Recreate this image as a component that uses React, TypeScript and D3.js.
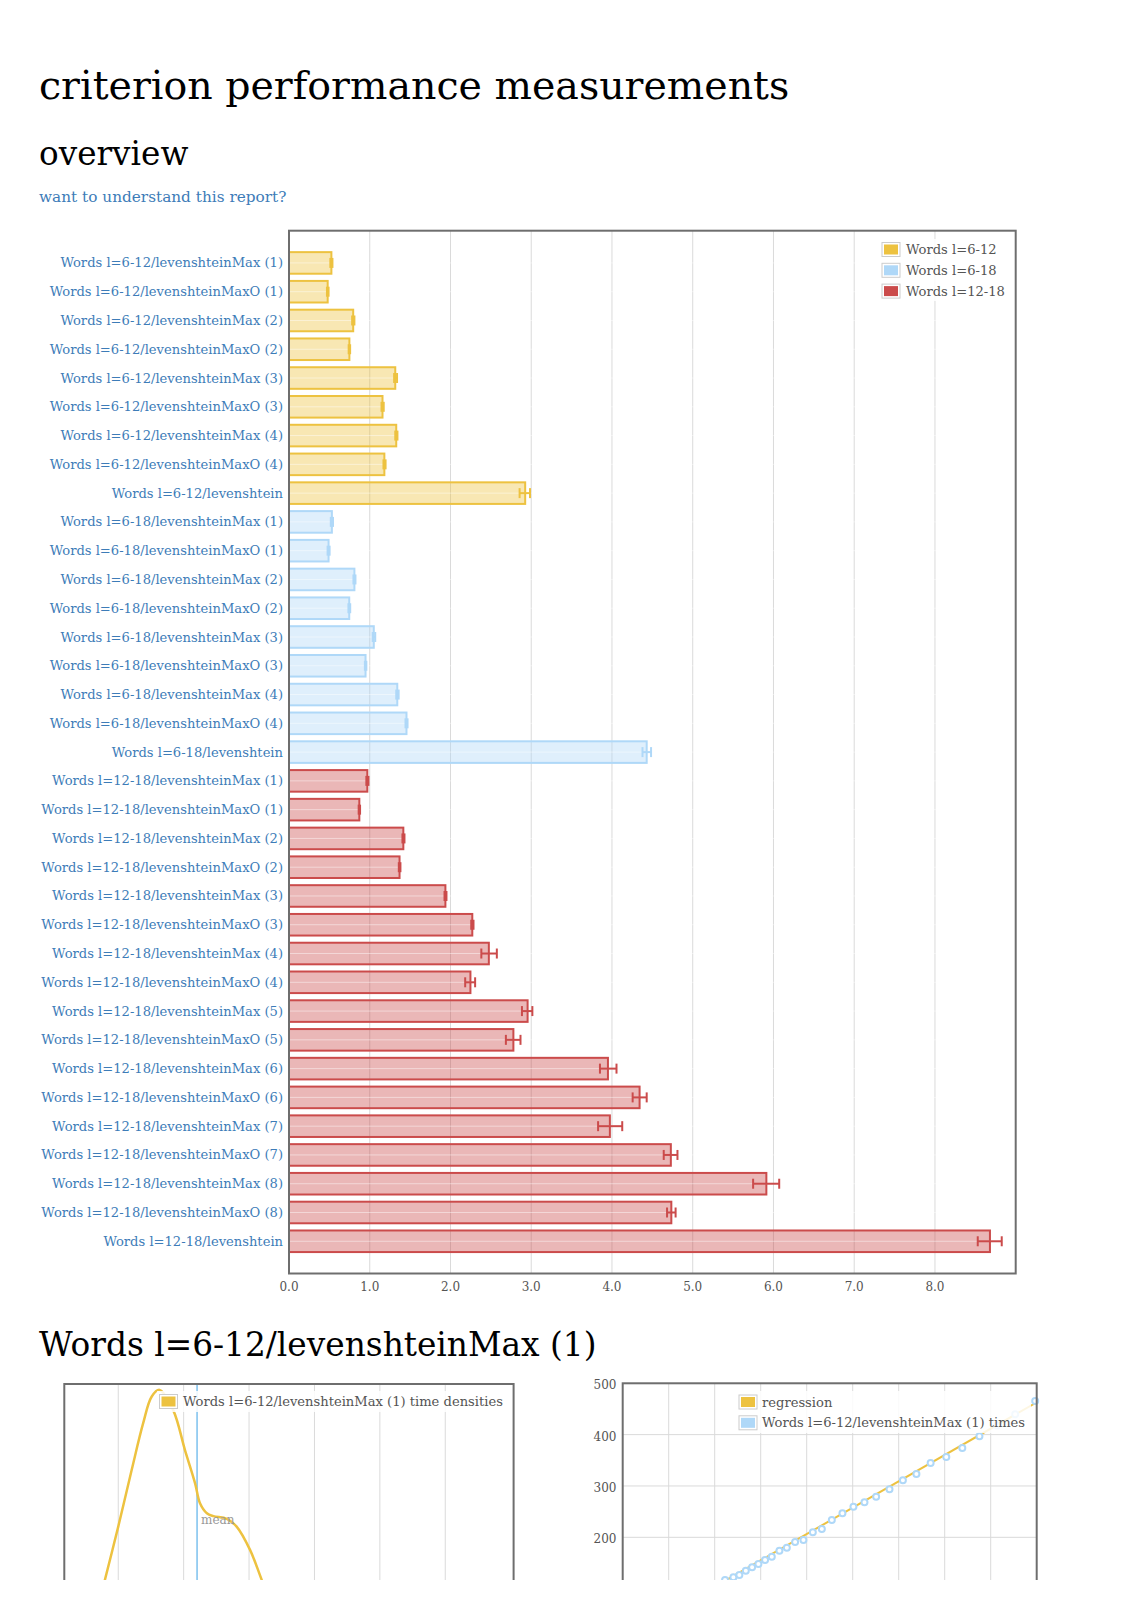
import React from "react";
import * as d3 from "d3";

// ---------- DATA ----------
const seriesNames = ["Words l=6-12", "Words l=6-18", "Words l=12-18"];

const benchNames = [
  "Words l=6-12/levenshteinMax (1)",
  "Words l=6-12/levenshteinMaxO (1)",
  "Words l=6-12/levenshteinMax (2)",
  "Words l=6-12/levenshteinMaxO (2)",
  "Words l=6-12/levenshteinMax (3)",
  "Words l=6-12/levenshteinMaxO (3)",
  "Words l=6-12/levenshteinMax (4)",
  "Words l=6-12/levenshteinMaxO (4)",
  "Words l=6-12/levenshtein",
  "Words l=6-18/levenshteinMax (1)",
  "Words l=6-18/levenshteinMaxO (1)",
  "Words l=6-18/levenshteinMax (2)",
  "Words l=6-18/levenshteinMaxO (2)",
  "Words l=6-18/levenshteinMax (3)",
  "Words l=6-18/levenshteinMaxO (3)",
  "Words l=6-18/levenshteinMax (4)",
  "Words l=6-18/levenshteinMaxO (4)",
  "Words l=6-18/levenshtein",
  "Words l=12-18/levenshteinMax (1)",
  "Words l=12-18/levenshteinMaxO (1)",
  "Words l=12-18/levenshteinMax (2)",
  "Words l=12-18/levenshteinMaxO (2)",
  "Words l=12-18/levenshteinMax (3)",
  "Words l=12-18/levenshteinMaxO (3)",
  "Words l=12-18/levenshteinMax (4)",
  "Words l=12-18/levenshteinMaxO (4)",
  "Words l=12-18/levenshteinMax (5)",
  "Words l=12-18/levenshteinMaxO (5)",
  "Words l=12-18/levenshteinMax (6)",
  "Words l=12-18/levenshteinMaxO (6)",
  "Words l=12-18/levenshteinMax (7)",
  "Words l=12-18/levenshteinMaxO (7)",
  "Words l=12-18/levenshteinMax (8)",
  "Words l=12-18/levenshteinMaxO (8)",
  "Words l=12-18/levenshtein",
];

const benchMeans = [
  0.525, 0.479, 0.795, 0.748, 1.316, 1.158, 1.328, 1.181, 2.925,
  0.531, 0.49, 0.81, 0.746, 1.05, 0.948, 1.341, 1.455, 4.43,
  0.97, 0.871, 1.416, 1.369, 1.937, 2.27, 2.475, 2.247, 2.955, 2.779,
  3.95, 4.342, 3.974, 4.729, 5.912, 4.735, 8.681,
];

const benchLow = [
  0.512, 0.47, 0.782, 0.739, 1.302, 1.146, 1.316, 1.17, 2.856,
  0.518, 0.478, 0.798, 0.736, 1.037, 0.94, 1.328, 1.443, 4.378,
  0.958, 0.863, 1.405, 1.36, 1.926, 2.257, 2.382, 2.182, 2.885, 2.686,
  3.851, 4.256, 3.828, 4.641, 5.748, 4.682, 8.53,
];

const benchHigh = [
  0.538, 0.49, 0.81, 0.757, 1.338, 1.173, 1.343, 1.196, 2.985,
  0.545, 0.503, 0.823, 0.758, 1.068, 0.958, 1.358, 1.468, 4.484,
  0.984, 0.88, 1.43, 1.38, 1.95, 2.285, 2.574, 2.305, 3.014, 2.867,
  4.056, 4.43, 4.127, 4.811, 6.071, 4.788, 8.827,
];

const xTicks = [0, 1, 2, 3, 4, 5, 6, 7, 8];

// detail section
const detailTitle = "Words l=6-12/levenshteinMax (1)";
const densityLabel = "Words l=6-12/levenshteinMax (1) time densities";
const densityX = [491.3, 495.9, 500, 504.1, 507.6, 510.2, 512.6, 516.8, 520.4, 523.5, 525.0, 527.1, 529.1, 533.2, 536.2, 540.3, 543.9, 551];
const densityY = [0.0, 0.234, 0.443, 0.664, 0.846, 0.95, 0.977, 0.898, 0.742, 0.612, 0.534, 0.495, 0.484, 0.473, 0.443, 0.352, 0.234, 0.0];
const densityTicks = [500, 520, 540, 560, 580, 600];
const densityMean = 524.1;

const regLegend = ["regression", "Words l=6-12/levenshteinMax (1) times"];
const iters = [
  222.5, 240.6, 253.6, 267.6, 281.3, 295.0, 309.5, 324.1, 340.7, 356.8,
  374.8, 392.9, 413.3, 432.9, 454.6, 477.7, 501.6, 525.6, 551.0, 580.0,
  609.1, 638.5, 669.4, 703.5, 738.3, 775.5, 814, 853.2, 896.7,
];
const times = [
  116.8, 122.0, 126.5, 134.9, 141.5, 148.0, 155.8, 162.2, 173.9, 179.7,
  190.8, 194.7, 209.7, 216.2, 233.7, 246.7, 259.6, 268.2, 279.1, 293.5,
  311.0, 323.4, 345.0, 356.6, 374.2, 397.1, 418.0, 439.5, 465.4,
];
const regressionX = [0, 900];
const regressionY = [1.1, 463];
const regXTicks = [100, 200, 300, 400, 500, 600, 700, 800];
const regYTicks = [100, 200, 300, 400, 500];

// ---------- STYLE ----------
const colors = ["#edc240", "#afd8f8", "#cb4b4b"];
const FONT = "'DejaVu Serif', serif";
const LINK = "#3d7cb8";
const TICK = "#545454";
const GRID = "#dadada";
const FRAME = "#6e6e6e";
const SMALL = 13.1;

function seriesIndex(name: string) {
  if (name.startsWith("Words l=6-12/")) return 0;
  if (name.startsWith("Words l=6-18/")) return 1;
  return 2;
}

export default function App() {
  // main chart
  const mL = 289, mR = 1015.7, mT = 230.7, mB = 1273.5;
  const x = d3.scaleLinear().domain([0, 9]).range([mL, mR]);
  const y = d3
    .scaleBand<string>()
    .domain(benchNames)
    .range([mT, mB])
    .paddingInner(0.25)
    .paddingOuter(0.745);
  const bw = y.bandwidth();

  // density chart
  const dL = 64.3, dR = 513.6, dT = 1384, dB = 1640;
  const dx = d3.scaleLinear().domain([483.5, 620.9]).range([dL, dR]);
  const dy = d3.scaleLinear().domain([0, 1]).range([dB, dT]);
  const densityPts = densityX.map((v, i) => [v, densityY[i]] as [number, number]);
  const densityPath = d3
    .line<[number, number]>()
    .x((d) => dx(d[0]))
    .y((d) => dy(d[1]))
    .curve(d3.curveCatmullRom.alpha(0.5))(densityPts);

  // regression chart
  const rL = 622.7, rR = 1036.7, rT = 1383.3, rB = 1640;
  const rx = d3.scaleLinear().domain([0, 900]).range([rL, rR]);
  const ry = d3.scaleLinear().domain([0, 500]).range([rB, rT]);
  const regPts = regressionX.map((v, i) => [v, regressionY[i]] as [number, number]);
  const regPath = d3
    .line<[number, number]>()
    .x((d) => rx(d[0]))
    .y((d) => ry(d[1]))(regPts);

  const capH = 10;

  return (
    <svg
      width={1131}
      height={1600}
      style={{ position: "absolute", left: 0, top: 0, background: "#fff" }}
      fontFamily={FONT}
    >
      <defs>
        <clipPath id="pageClip">
          <rect x={0} y={0} width={1131} height={1580} />
        </clipPath>
        <clipPath id="dClip">
          <rect x={dL} y={dT} width={dR - dL} height={dB - dT} />
        </clipPath>
        <clipPath id="rClip">
          <rect x={rL} y={rT} width={rR - rL} height={rB - rT} />
        </clipPath>
      </defs>

      {/* headings */}
      <text x={39} y={99} fontSize={39.5} fill="#000">
        criterion performance measurements
      </text>
      <text x={39} y={165} fontSize={32.7} fill="#000">
        overview
      </text>
      <text x={39} y={202} fontSize={15.3} fill={LINK}>
        want to understand this report?
      </text>

      {/* main chart grid */}
      {xTicks.slice(1).map((t) => (
        <line key={"g" + t} x1={x(t)} x2={x(t)} y1={mT} y2={mB} stroke={GRID} strokeWidth={1} />
      ))}

      {/* bars */}
      {benchNames.map((n, i) => {
        const c = colors[seriesIndex(n)];
        const y0 = y(n)!;
        return (
          <rect
            key={"b" + i}
            x={x(0)}
            y={y0}
            width={x(benchMeans[i]) - x(0)}
            height={bw}
            fill={c}
            fillOpacity={0.4}
            stroke={c}
            strokeWidth={2}
          />
        );
      })}

      {/* faint horizontal category lines */}
      {benchNames.map((n, i) => {
        const cy = y(n)! + bw / 2;
        return (
          <line key={"h" + i} x1={mL} x2={mR} y1={cy} y2={cy} stroke="#fff" strokeOpacity={0.45} strokeWidth={1} />
        );
      })}

      {/* error bars */}
      {benchNames.map((n, i) => {
        const c = colors[seriesIndex(n)];
        const cy = y(n)! + bw / 2;
        const lo = x(benchLow[i]);
        const hi = x(benchHigh[i]);
        return (
          <g key={"e" + i} stroke={c} strokeWidth={2}>
            <line x1={lo} x2={hi} y1={cy} y2={cy} />
            <line x1={lo} x2={lo} y1={cy - capH / 2} y2={cy + capH / 2} />
            <line x1={hi} x2={hi} y1={cy - capH / 2} y2={cy + capH / 2} />
          </g>
        );
      })}

      {/* y labels */}
      {benchNames.map((n, i) => (
        <text
          key={"l" + i}
          x={mL - 6}
          y={y(n)! + bw / 2}
          textAnchor="end"
          dominantBaseline="central"
          fontSize={SMALL}
          fill={LINK}
        >
          {n}
        </text>
      ))}

      {/* x tick labels */}
      {xTicks.map((t) => (
        <text key={"t" + t} x={x(t)} y={mB + 17} textAnchor="middle" fontSize={12} fill={TICK}>
          {t.toFixed(1)}
        </text>
      ))}

      {/* frame */}
      <rect x={mL} y={mT} width={mR - mL} height={mB - mT} fill="none" stroke={FRAME} strokeWidth={2} />

      {/* legend */}
      <rect x={879} y={239} width={124} height={62} fill="#fff" fillOpacity={0.85} />
      {seriesNames.map((s, i) => {
        const cy = 249.5 + i * 20.8;
        return (
          <g key={"lg" + i}>
            <rect x={882} y={cy - 7} width={18} height={14} fill="#fff" stroke="#ccc" strokeWidth={1} />
            <rect x={884} y={cy - 5} width={14} height={10} fill={colors[i]} />
            <text x={906} y={cy} dominantBaseline="central" fontSize={SMALL} fill={TICK}>
              {s}
            </text>
          </g>
        );
      })}

      {/* detail heading */}
      <text x={39} y={1356} fontSize={32.8} fill="#000">
        {detailTitle}
      </text>

      <g clipPath="url(#pageClip)">
        {/* density chart */}
        {densityTicks.map((t) => (
          <line key={"dg" + t} x1={dx(t)} x2={dx(t)} y1={dT} y2={dB} stroke={GRID} strokeWidth={1} />
        ))}
        <line x1={dx(densityMean)} x2={dx(densityMean)} y1={dT} y2={dB} stroke="#7cc0ee" strokeWidth={1.5} />
        <g clipPath="url(#dClip)">
          <path d={densityPath!} fill="none" stroke={colors[0]} strokeWidth={2.5} />
        </g>
        <text x={dx(densityMean) + 4} y={1524} fontSize={12} fill="#999">
          mean
        </text>
        <rect x={dL} y={dT} width={dR - dL} height={dB - dT} fill="none" stroke={FRAME} strokeWidth={2} />
        <rect x={157} y={1391} width={352} height={21} fill="#fff" fillOpacity={0.85} />
        <rect x={159.5} y={1394.5} width={18} height={14} fill="#fff" stroke="#ccc" strokeWidth={1} />
        <rect x={161.5} y={1396.5} width={14} height={10} fill={colors[0]} />
        <text x={183} y={1401.5} dominantBaseline="central" fontSize={SMALL} fill={TICK}>
          {densityLabel}
        </text>

        {/* regression chart */}
        {regXTicks.map((t) => (
          <line key={"rgx" + t} x1={rx(t)} x2={rx(t)} y1={rT} y2={rB} stroke={GRID} strokeWidth={1} />
        ))}
        {regYTicks.map((t) => (
          <line key={"rgy" + t} x1={rL} x2={rR} y1={ry(t)} y2={ry(t)} stroke={GRID} strokeWidth={1} />
        ))}
        <g clipPath="url(#rClip)">
          <path d={regPath!} fill="none" stroke={colors[0]} strokeWidth={2} />
        </g>
        {iters.map((v, i) => (
          <circle key={"p" + i} cx={rx(v)} cy={ry(times[i])} r={3} fill="#fff" stroke={colors[1]} strokeWidth={2} />
        ))}
        {regYTicks.map((t) => (
          <text key={"ryt" + t} x={616.5} y={ry(t) + 2} textAnchor="end" dominantBaseline="central" fontSize={12} fill={TICK}>
            {t}
          </text>
        ))}
        <rect x={rL} y={rT} width={rR - rL} height={rB - rT} fill="none" stroke={FRAME} strokeWidth={2} />
        <rect x={735} y={1391} width={296} height={42} fill="#fff" fillOpacity={0.85} />
        {regLegend.map((s, i) => {
          const cy = 1402 + i * 20.8;
          return (
            <g key={"rl" + i}>
              <rect x={739} y={cy - 7} width={18} height={14} fill="#fff" stroke="#ccc" strokeWidth={1} />
              <rect x={741} y={cy - 5} width={14} height={10} fill={colors[i]} />
              <text x={762} y={cy} dominantBaseline="central" fontSize={SMALL} fill={TICK}>
                {s}
              </text>
            </g>
          );
        })}
      </g>
    </svg>
  );
}
